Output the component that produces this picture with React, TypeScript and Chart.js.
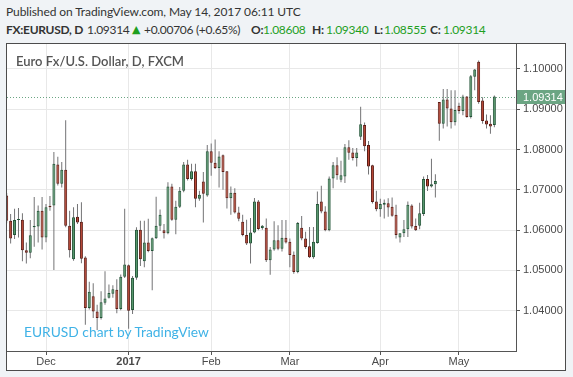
import React, { useEffect, useRef } from 'react';
import { Chart, registerables } from 'chart.js';

Chart.register(...registerables);

// Daily candles, mid Nov 2016 .. 12 May 2017 (index = trading-bar number)
const openP = [
  1.0686, 1.0623, 1.0588, 1.0625, 1.0626, 1.0550, 1.0544, 1.0607, 1.0609, 1.0648,
  1.0582, 1.0660, 1.0661, 1.0763, 1.0715, 1.0750, 1.0611, 1.0528, 1.0633, 1.0621,
  1.0532, 1.0407, 1.0436, 1.0398, 1.0382, 1.0420, 1.0432, 1.0442, 1.0452, 1.0404,
  1.0484, 1.0513, 1.0402, 1.0482, 1.0601, 1.0523, 1.0569, 1.0548, 1.0580, 1.0611,
  1.0600, 1.0592, 1.0708, 1.0626, 1.0658, 1.0698, 1.0763, 1.0727, 1.0746, 1.0678,
  1.0721, 1.0686, 1.0796, 1.0767, 1.0754, 1.0786, 1.0746, 1.0679, 1.0693, 1.0644,
  1.0621, 1.0588, 1.0567, 1.0594, 1.0671, 1.0605, 1.0606, 1.0525, 1.0552, 1.0575,
  1.0554, 1.0581, 1.0571, 1.0539, 1.0496, 1.0606, 1.0579, 1.0560, 1.0533, 1.0568,
  1.0671, 1.0646, 1.0600, 1.0728, 1.0761, 1.0725, 1.0733, 1.0806, 1.0793, 1.0779,
  1.0832, 1.0861, 1.0811, 1.0761, 1.0671, 1.0652, 1.0663, 1.0667, 1.0658, 1.0638,
  1.0582, 1.0592, 1.0602, 1.0661, 1.0610, 1.0611, 1.0640, 1.0727, 1.0708, 1.0714,
  1.0918, 1.0864, 1.0924, 1.0902, 1.0868, 1.0909, 1.0896, 1.0932, 1.0881, 1.0981,
  1.1018, 1.0922, 1.0872, 1.0864, 1.08608,
];
const highP = [
  1.0692, 1.0640, 1.0653, 1.0655, 1.0642, 1.0569, 1.0625, 1.0682, 1.0661, 1.0682,
  1.0665, 1.0685, 1.0794, 1.0782, 1.0769, 1.0873, 1.0648, 1.0657, 1.0665, 1.0669,
  1.0535, 1.0472, 1.0468, 1.0415, 1.0448, 1.0498, 1.0465, 1.0463, 1.0478, 1.0490,
  1.0653, 1.0515, 1.0486, 1.0607, 1.0623, 1.0623, 1.0628, 1.0582, 1.0683, 1.0651,
  1.0615, 1.0719, 1.0715, 1.0673, 1.0707, 1.0769, 1.0775, 1.0765, 1.0765, 1.0698,
  1.0744, 1.0811, 1.0815, 1.0825, 1.0796, 1.0788, 1.0746, 1.0708, 1.0704, 1.0658,
  1.0638, 1.0626, 1.0630, 1.0680, 1.0675, 1.0613, 1.0629, 1.0558, 1.0622, 1.0612,
  1.0625, 1.0625, 1.0579, 1.0547, 1.0620, 1.0635, 1.0596, 1.0608, 1.0608, 1.0696,
  1.0710, 1.0659, 1.0733, 1.0769, 1.0781, 1.0772, 1.0814, 1.0823, 1.0804, 1.0804,
  1.0906, 1.0867, 1.0821, 1.0762, 1.0698, 1.0678, 1.0676, 1.0679, 1.0681, 1.0663,
  1.0592, 1.0625, 1.0671, 1.0664, 1.0629, 1.0668, 1.0733, 1.0737, 1.0777, 1.0739,
  1.0918, 1.0950, 1.0950, 1.0947, 1.0947, 1.0916, 1.0936, 1.0933, 1.0985, 1.1000,
  1.1021, 1.0930, 1.0887, 1.0885, 1.09340,
];
const lowP = [
  1.0617, 1.0567, 1.0578, 1.0582, 1.0523, 1.0517, 1.0530, 1.0559, 1.0569, 1.0552,
  1.0570, 1.0648, 1.0501, 1.0711, 1.0706, 1.0607, 1.0532, 1.0524, 1.0615, 1.0518,
  1.0365, 1.0403, 1.0382, 1.0352, 1.0378, 1.0415, 1.0430, 1.0432, 1.0394, 1.0401,
  1.0481, 1.0355, 1.0392, 1.0477, 1.0511, 1.0508, 1.0545, 1.0451, 1.0578, 1.0598,
  1.0579, 1.0590, 1.0623, 1.0590, 1.0655, 1.0694, 1.0723, 1.0723, 1.0657, 1.0673,
  1.0619, 1.0683, 1.0735, 1.0752, 1.0706, 1.0700, 1.0654, 1.0638, 1.0641, 1.0622,
  1.0585, 1.0563, 1.0517, 1.0592, 1.0600, 1.0601, 1.0521, 1.0489, 1.0549, 1.0550,
  1.0547, 1.0567, 1.0508, 1.0492, 1.0493, 1.0575, 1.0554, 1.0531, 1.0529, 1.0566,
  1.0642, 1.0597, 1.0597, 1.0704, 1.0725, 1.0719, 1.0717, 1.0775, 1.0773, 1.0758,
  1.0824, 1.0796, 1.0738, 1.0666, 1.0647, 1.0633, 1.0629, 1.0633, 1.0633, 1.0579,
  1.0569, 1.0583, 1.0583, 1.0604, 1.0598, 1.0602, 1.0635, 1.0697, 1.0706, 1.0681,
  1.0822, 1.0852, 1.0857, 1.0852, 1.0860, 1.0889, 1.0885, 1.0879, 1.0877, 1.0947,
  1.0914, 1.0864, 1.0852, 1.0839, 1.08555,
];
const closeP = [
  1.0623, 1.0579, 1.0625, 1.0627, 1.0550, 1.0544, 1.0587, 1.0610, 1.0648, 1.0582,
  1.0657, 1.0657, 1.0765, 1.0715, 1.0750, 1.0611, 1.0550, 1.0632, 1.0619, 1.0529,
  1.0407, 1.0447, 1.0398, 1.0382, 1.0421, 1.0430, 1.0444, 1.0453, 1.0404, 1.0484,
  1.0515, 1.0400, 1.0482, 1.0601, 1.0528, 1.0569, 1.0548, 1.0580, 1.0611, 1.0638,
  1.0592, 1.0708, 1.0626, 1.0658, 1.0698, 1.0763, 1.0727, 1.0746, 1.0678, 1.0688,
  1.0690, 1.0796, 1.0767, 1.0754, 1.0783, 1.0744, 1.0679, 1.0693, 1.0644, 1.0628,
  1.0588, 1.0567, 1.0594, 1.0671, 1.0603, 1.0611, 1.0525, 1.0552, 1.0575, 1.0554,
  1.0581, 1.0569, 1.0538, 1.0496, 1.0618, 1.0579, 1.0558, 1.0533, 1.0571, 1.0665,
  1.0646, 1.0600, 1.0728, 1.0761, 1.0736, 1.0736, 1.0806, 1.0792, 1.0779, 1.0793,
  1.0863, 1.0808, 1.0758, 1.0670, 1.0652, 1.0665, 1.0668, 1.0656, 1.0636, 1.0588,
  1.0592, 1.0602, 1.0663, 1.0609, 1.0600, 1.0642, 1.0727, 1.0708, 1.0714, 1.0722,
  1.0864, 1.0924, 1.0902, 1.0868, 1.0898, 1.0896, 1.0932, 1.0881, 1.0982, 1.0999,
  1.0918, 1.0871, 1.0862, 1.0857, 1.09314,
];

const priceTicks = [1.04, 1.05, 1.06, 1.07, 1.08, 1.09, 1.1];
const monthTickIndex = [10, 31, 52, 72, 95, 115];
const monthTickLabels = ['Dec', '2017', 'Feb', 'Mar', 'Apr', 'May'];
const lastPrice = 1.09314;

const UP_FILL = '#559a6c';
const UP_BORDER = '#225437';
const DN_FILL = '#bb4432';
const DN_BORDER = '#5b1a13';
const WICK = '#737375';
const AXIS_FONT = '"Liberation Sans", Arial, sans-serif';

const priceLinePlugin = {
  id: 'priceLine',
  beforeDatasetsDraw(chart: any) {
    const { ctx, chartArea: a, scales } = chart;
    const py = Math.round(scales.y.getPixelForValue(lastPrice)) + 0.5;
    ctx.save();
    ctx.strokeStyle = '#6ba583';
    ctx.lineWidth = 1;
    ctx.setLineDash([1, 2]);
    ctx.beginPath();
    ctx.moveTo(a.left, py);
    ctx.lineTo(a.right, py);
    ctx.stroke();
    ctx.restore();
  },
  afterDraw(chart: any) {
    const { ctx, chartArea: a, scales, width } = chart;
    const py = Math.round(scales.y.getPixelForValue(lastPrice));
    ctx.save();
    ctx.fillStyle = '#6ba583';
    ctx.fillRect(a.right + 1, py - 7, width - a.right - 1, 14);
    ctx.fillStyle = '#ffffff';
    ctx.font = '11px ' + AXIS_FONT;
    ctx.textBaseline = 'middle';
    ctx.textAlign = 'left';
    ctx.fillText(lastPrice.toFixed(5), a.right + 7, py + 0.5);
    ctx.restore();
  },
};

export default function App() {
  const ref = useRef<HTMLCanvasElement>(null);

  useEffect(() => {
    const idx = openP.map((_, i) => i);
    const up = idx.map((i) => closeP[i] >= openP[i]);
    const chart = new Chart(ref.current as HTMLCanvasElement, {
      type: 'bar',
      data: {
        datasets: [
          {
            label: 'body',
            order: 0,
            data: idx.map((i) => ({
              x: i,
              y: [Math.min(openP[i], closeP[i]), Math.max(openP[i], closeP[i])],
            })) as any,
            backgroundColor: idx.map((i) => (up[i] ? UP_FILL : DN_FILL)),
            borderColor: idx.map((i) => (up[i] ? UP_BORDER : DN_BORDER)),
            borderWidth: 1,
            borderSkipped: false,
            barThickness: 3,
            minBarLength: 1,
            grouped: false,
            inflateAmount: 0,
          } as any,
          {
            label: 'wick',
            order: 1,
            data: idx.map((i) => ({ x: i, y: [lowP[i], highP[i]] })) as any,
            backgroundColor: WICK,
            borderWidth: 0,
            barThickness: 1,
            grouped: false,
            inflateAmount: 0,
          } as any,
        ],
      },
      options: {
        animation: false,
        responsive: false,
        maintainAspectRatio: false,
        layout: { padding: 0 },
        plugins: { legend: { display: false }, tooltip: { enabled: false } },
        scales: {
          x: {
            type: 'linear',
            min: 0.08,
            max: 129.5,
            offset: false,
            afterBuildTicks: (s: any) => {
              s.ticks = monthTickIndex.map((v) => ({ value: v }));
            },
            afterFit: (s: any) => {
              s.height = 19;
              s.paddingLeft = 0;
              s.paddingRight = 0;
            },
            ticks: {
              autoSkip: false,
              maxRotation: 0,
              padding: 0,
              color: '#4a4a4a',
              font: (c: any) => ({
                family: AXIS_FONT,
                size: 11,
                weight: c.tick && c.tick.value === 31 ? 'bold' : 'normal',
              }),
              callback: (v: any) => monthTickLabels[monthTickIndex.indexOf(v)] ?? '',
            },
            grid: { offset: false, color: '#e8e8e8', tickColor: '#555', tickLength: 4 },
            border: { display: true, color: '#555555', width: 1 },
          },
          y: {
            type: 'linear',
            position: 'right',
            min: 1.03,
            max: 1.1062,
            afterBuildTicks: (s: any) => {
              s.ticks = priceTicks.map((v) => ({ value: v }));
            },
            afterFit: (s: any) => {
              s.width = 49;
              s.paddingTop = 0;
              s.paddingBottom = 0;
            },
            ticks: {
              padding: 3,
              color: '#4a4a4a',
              font: { family: AXIS_FONT, size: 11 },
              callback: (v: any) => Number(v).toFixed(5),
            },
            grid: { color: '#e8e8e8', tickColor: '#555', tickLength: 4 },
            border: { display: true, color: '#555555', width: 1 },
          },
        },
      } as any,
      plugins: [priceLinePlugin],
    });
    return () => chart.destroy();
  }, []);

  const textFont = 'Lato, "Open Sans", sans-serif';
  const green = '#1f9f1f';
  const seg = (left: number, text: string, color: string, bold = false) => (
    <span
      style={{
        position: 'absolute',
        left,
        top: 0,
        color,
        fontWeight: bold ? 700 : 400,
      }}
    >
      {text}
    </span>
  );
  return (
    <div
      style={{
        position: 'absolute',
        left: 0,
        top: 0,
        width: 573,
        height: 377,
        background: '#f0f3f6',
        fontFamily: textFont,
        color: '#333',
        overflow: 'hidden',
      }}
    >
      <div
        style={{
          position: 'absolute',
          left: 6,
          top: 4,
          fontSize: 12,
          letterSpacing: -0.1,
          lineHeight: '16px',
          whiteSpace: 'nowrap',
        }}
      >
        Published on TradingView.com, May 14, 2017 06:11 UTC
      </div>
      <div
        style={{
          position: 'absolute',
          left: 0,
          top: 22,
          width: 573,
          height: 16,
          fontSize: 12,
          letterSpacing: -0.3,
          lineHeight: '16px',
          whiteSpace: 'nowrap',
        }}
      >
        {seg(6, 'FX:EURUSD, D', '#333', true)}
        {seg(87, '1.09314', '#333')}
        <span
          style={{
            position: 'absolute',
            left: 132,
            top: 0,
            color: green,
            fontFamily: '"DejaVu Sans", sans-serif',
            fontSize: 11,
          }}
        >
          ▲
        </span>
        {seg(144, '+0.00706 (+0.65%)', '#333')}
        {seg(251, 'O:', '#333', true)}
        {seg(263, '1.08608', green)}
        {seg(312, 'H:', '#333', true)}
        {seg(326, '1.09340', green)}
        {seg(374, 'L:', '#333', true)}
        {seg(384, '1.08555', green)}
        {seg(430, 'C:', '#333', true)}
        {seg(443, '1.09314', green)}
      </div>
      <div
        style={{
          position: 'absolute',
          left: 6,
          top: 43,
          width: 560,
          height: 328,
          boxSizing: 'border-box',
          border: '1px solid #4c4c4c',
          background: '#ffffff',
        }}
      />
      <canvas
        ref={ref}
        width={558}
        height={326}
        style={{ position: 'absolute', left: 7, top: 44, width: 558, height: 326 }}
      />
      <div
        style={{
          position: 'absolute',
          left: 16,
          top: 53,
          fontSize: 13,
          lineHeight: '16px',
          fontWeight: 600,
          color: '#555',
          whiteSpace: 'nowrap',
        }}
      >
        Euro Fx/U.S. Dollar, D, FXCM
      </div>
      <div
        style={{
          position: 'absolute',
          left: 24,
          top: 322,
          fontSize: 13.8,
          lineHeight: '20px',
          color: '#3fb2e6',
          whiteSpace: 'nowrap',
        }}
      >
        EURUSD chart by TradingView
      </div>
    </div>
  );
}
